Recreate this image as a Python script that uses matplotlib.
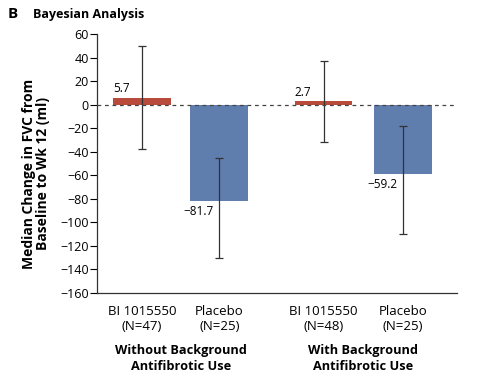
import matplotlib.pyplot as plt

plt.rcParams['font.family'] = ['Open Sans', 'DejaVu Sans']

categories = ["BI 1015550\n(N=47)", "Placebo\n(N=25)", "BI 1015550\n(N=48)", "Placebo\n(N=25)"]
groups = ["Without Background\nAntifibrotic Use", "With Background\nAntifibrotic Use"]
medians = [5.7, -81.7, 2.7, -59.2]
upper = [50, -45.5, 37, -18.5]
lower = [-37.5, -131, -31.5, -110.5]
value_labels = ["5.7", "\u221281.7", "2.7", "\u221259.2"]
yticks = [60, 40, 20, 0, -20, -40, -60, -80, -100, -120, -140, -160]

red = "#b84b3c"
blue = "#5f7dad"
colors = [red, blue, red, blue]

x = [0, 0.99, 2.33, 3.35]
w = 0.74

fig = plt.figure(figsize=(4.85, 3.78), dpi=100)
ax = fig.add_axes([0.2, 0.226, 0.742, 0.684])

err_lo = [m - l for m, l in zip(medians, lower)]
err_hi = [u - m for m, u in zip(medians, upper)]
ax.bar(x, medians, width=w, color=colors, zorder=2)
ax.errorbar(x, medians, yerr=[err_lo, err_hi], fmt='none', ecolor='#333333',
            elinewidth=0.9, capsize=3, capthick=0.9, zorder=3)
ax.axhline(0, color='#444444', lw=0.9, ls=(0, (3, 3)), zorder=4)

for xi, m, lab in zip(x, medians, value_labels):
    left = xi - w / 2
    if m >= 0:
        ax.annotate(lab, (left, m), xytext=(0, 2), textcoords='offset points',
                    ha='left', va='bottom', fontsize=8.5)
    else:
        ax.annotate(lab, (left, m), xytext=(-5, -3), textcoords='offset points',
                    ha='left', va='top', fontsize=8.5)

ax.set_xlim(-0.58, 4.04)
ax.set_ylim(-160, 60)
ax.set_yticks(yticks)
ax.set_yticklabels([str(t).replace('-', '\u2212') for t in yticks], fontsize=9)
ax.set_xticks(x)
ax.set_xticklabels(categories, fontsize=9.5, linespacing=1.2)
ax.tick_params(axis='x', length=0, pad=9)
ax.tick_params(axis='y', length=5, width=0.8, pad=1, direction='out')
for s in ['top', 'right']:
    ax.spines[s].set_visible(False)
for s in ['left', 'bottom']:
    ax.spines[s].set_linewidth(0.9)
    ax.spines[s].set_color('#333333')

ax.set_ylabel("Median Change in FVC from\nBaseline to Wk 12 (ml)", fontsize=10,
              fontweight='bold', linespacing=1.05)
ax.yaxis.set_label_coords(-0.13, 0.46)

for gi, g in enumerate(groups):
    cx = (x[2 * gi] + x[2 * gi + 1]) / 2
    ax.text(cx, -0.2, g, transform=ax.get_xaxis_transform(), ha='center', va='top',
            fontsize=9.2, fontweight='bold', linespacing=1.25)

fig.text(0.016, 0.962, "B", fontsize=11, fontweight='bold', va='center')
fig.text(0.068, 0.962, "Bayesian Analysis", fontsize=9, fontweight='bold', va='center')

fig.savefig("out.png", dpi=100)
